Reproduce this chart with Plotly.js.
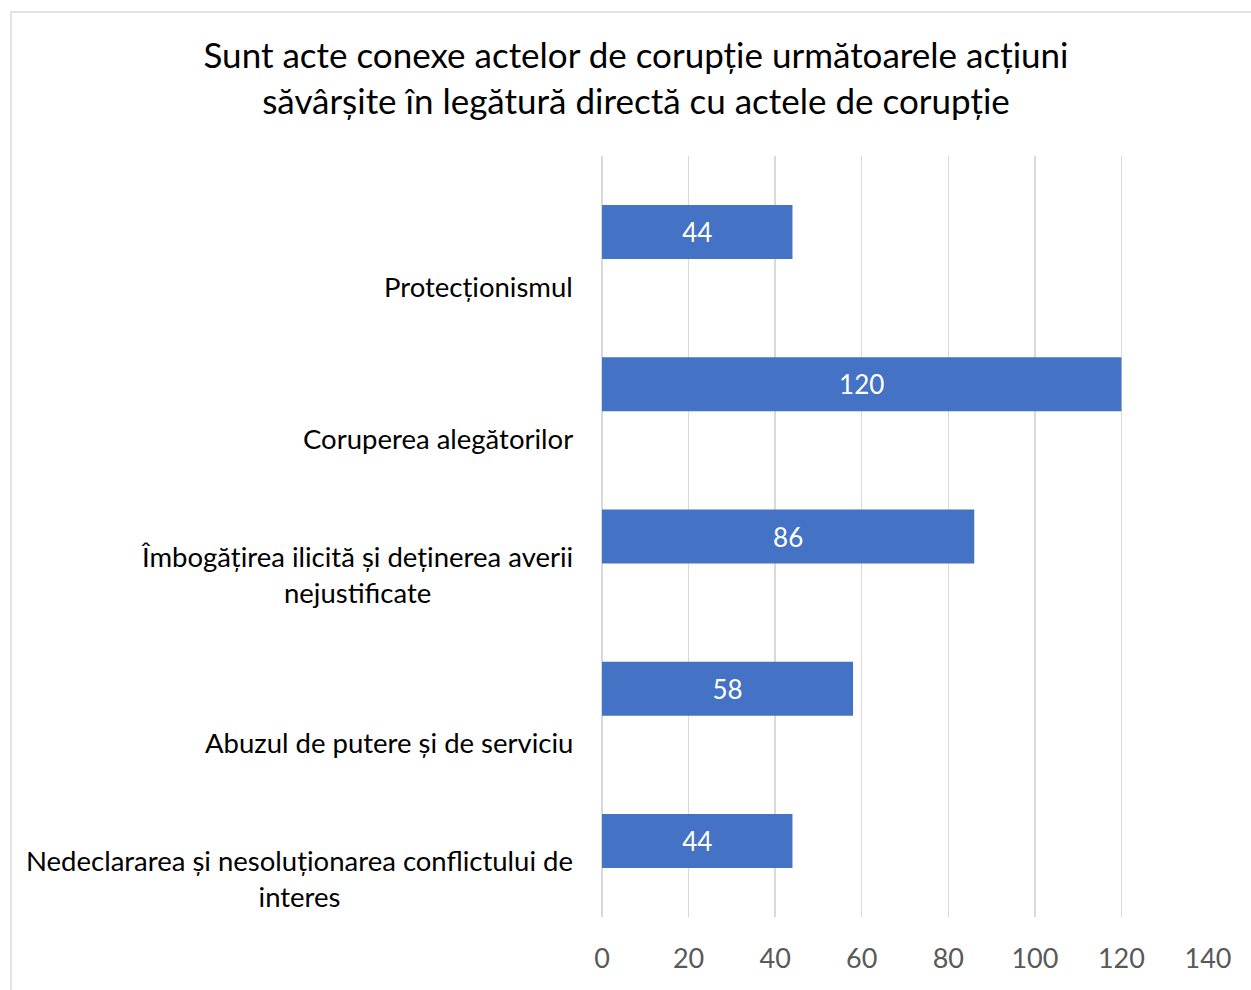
<!DOCTYPE html>
<html>
<head>
<meta charset="utf-8">
<script src="https://cdn.plot.ly/plotly-3.0.1.min.js"></script>
<style>html,body{margin:0;padding:0;background:#fff;}#chart{width:1251px;height:990px;}</style>
</head>
<body>
<div id="chart"></div>
<script>
// Data
const categories = [
  "Protecționismul",
  "Coruperea alegătorilor",
  "Îmbogățirea ilicită și deținerea averii<br>nejustificate",
  "Abuzul de putere și de serviciu",
  "Nedeclararea și nesoluționarea conflictului de<br>interes"
];
const values = [44, 120, 86, 58, 44];
const xTicks = [0, 20, 40, 60, 80, 100, 120, 140];
const titleText = "Sunt acte conexe actelor de corupție următoarele acțiuni<br>săvârșite în legătură directă cu actele de corupție";

const FONT = "Lato, 'Open Sans', sans-serif";
const W = 1251, H = 990;
const plotL = 602, plotR = 1208, plotT = 156, plotB = 917;

const trace = {
  type: 'bar',
  orientation: 'h',
  y: categories,
  x: values,
  width: 0.355,
  marker: {color: '#4472C4'},
  text: values.map(String),
  textposition: 'inside',
  insidetextanchor: 'middle',
  constraintext: 'none',
  textfont: {family: FONT, size: 26, color: '#ffffff'},
  hoverinfo: 'none',
  cliponaxis: false
};

// category labels as centred annotations, below each band centre
const annotations = categories.map(c => {
  const lines = c.split('<br>').length;
  return {
    xref: 'paper', yref: 'y', x: 0, y: c,
    xanchor: 'right', yanchor: 'middle',
    xshift: -27, yshift: lines > 1 ? -38 : -54,
    text: c, showarrow: false, align: 'center',
    font: {family: FONT, size: 27.5, color: '#000000'}
  };
});

const pw = plotR - plotL, ph = plotB - plotT;
const shapes = [{
  type: 'rect', xref: 'paper', yref: 'paper',
  x0: (11 - plotL) / pw, x1: (W + 20 - plotL) / pw,
  y0: (plotB - (H + 20)) / ph, y1: (plotB - 12) / ph,
  line: {color: '#d9d9d9', width: 1.5}, fillcolor: 'rgba(0,0,0,0)', layer: 'below'
}];

const layout = {
  width: W, height: H,
  margin: {l: plotL, r: W - plotR, t: plotT, b: H - plotB, pad: 0},
  paper_bgcolor: '#ffffff', plot_bgcolor: '#ffffff',
  showlegend: false,
  title: {
    text: titleText,
    x: 636 / W, xanchor: 'center', xref: 'container',
    y: 1 - 68 / H, yanchor: 'top', yref: 'container',
    font: {family: FONT, size: 35, color: '#000000'}
  },
  xaxis: {
    range: [0, 140], tickvals: xTicks, ticktext: xTicks.map(String),
    showgrid: true, gridcolor: '#d9d9d9', gridwidth: 1.5,
    zeroline: true, zerolinecolor: '#d9d9d9', zerolinewidth: 1.5,
    showline: false, ticks: '',
    ticklabelstandoff: 23,
    tickfont: {family: FONT, size: 27, color: '#595959'},
    fixedrange: true
  },
  yaxis: {
    type: 'category', categoryarray: categories, autorange: 'reversed',
    showticklabels: false, showgrid: false, zeroline: false, showline: false, ticks: '',
    fixedrange: true
  },
  annotations: annotations,
  shapes: shapes,
  bargap: 0.645
};

Plotly.newPlot('chart', [trace], layout, {displayModeBar: false, staticPlot: true});
</script>
</body>
</html>
